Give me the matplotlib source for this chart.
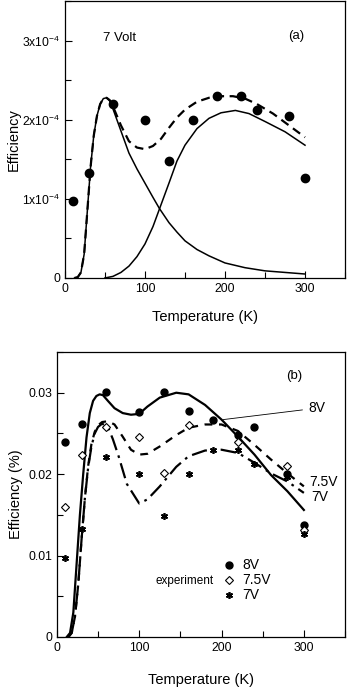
import matplotlib
matplotlib.use("Agg")
import matplotlib.pyplot as plt
from matplotlib.ticker import MultipleLocator

plt.rcParams['font.family'] = ['Liberation Sans', 'DejaVu Sans']
plt.rcParams['mathtext.fontset'] = 'custom'
plt.rcParams['mathtext.rm'] = 'Liberation Sans'

# ---------------- Panel (a) data: 7 Volt ----------------
a_exp_T = [10, 30, 60, 100, 130, 160, 190, 220, 240, 280, 300]
a_exp_eff = [0.98e-4, 1.33e-4, 2.20e-4, 2.00e-4, 1.48e-4, 2.00e-4, 2.30e-4, 2.30e-4, 2.12e-4, 2.05e-4, 1.26e-4]

a_c1_T = [12, 16, 20, 24, 28, 32, 36, 40, 44, 48, 52, 56, 60, 65, 70, 80, 90, 100, 110, 118, 130, 140, 150, 165, 180, 200, 225, 250, 275, 300]
a_c1_eff = [0.0, 0.01e-4, 0.07e-4, 0.30e-4, 0.85e-4, 1.40e-4, 1.80e-4, 2.05e-4, 2.20e-4, 2.27e-4, 2.28e-4, 2.24e-4, 2.14e-4, 2.00e-4, 1.86e-4, 1.58e-4, 1.38e-4, 1.20e-4, 1.02e-4, 0.88e-4, 0.70e-4, 0.58e-4, 0.47e-4, 0.36e-4, 0.28e-4, 0.19e-4, 0.13e-4, 0.09e-4, 0.07e-4, 0.05e-4]

a_c2_T = [50, 60, 70, 80, 90, 100, 110, 118, 130, 140, 150, 165, 180, 195, 213, 230, 250, 275, 300]
a_c2_eff = [0.0, 0.02e-4, 0.07e-4, 0.15e-4, 0.27e-4, 0.43e-4, 0.65e-4, 0.87e-4, 1.20e-4, 1.48e-4, 1.68e-4, 1.89e-4, 2.02e-4, 2.09e-4, 2.12e-4, 2.08e-4, 1.98e-4, 1.85e-4, 1.68e-4]

a_sum_T = [12, 16, 20, 24, 28, 32, 36, 40, 44, 48, 52, 56, 60, 65, 70, 80, 90, 100, 110, 120, 130, 140, 150, 165, 180, 195, 210, 225, 240, 260, 280, 300]
a_sum_eff = [0.0, 0.01e-4, 0.07e-4, 0.30e-4, 0.85e-4, 1.40e-4, 1.80e-4, 2.05e-4, 2.20e-4, 2.27e-4, 2.28e-4, 2.25e-4, 2.17e-4, 2.05e-4, 1.93e-4, 1.73e-4, 1.65e-4, 1.63e-4, 1.67e-4, 1.76e-4, 1.90e-4, 2.03e-4, 2.13e-4, 2.23e-4, 2.28e-4, 2.30e-4, 2.30e-4, 2.27e-4, 2.20e-4, 2.08e-4, 1.93e-4, 1.78e-4]

# ---------------- Panel (b) data ----------------
b_T_8 = [10, 30, 60, 100, 130, 160, 190, 220, 240, 280, 300]
b_eff_8 = [0.0240, 0.0261, 0.0301, 0.0276, 0.0301, 0.0278, 0.0267, 0.0248, 0.0258, 0.0200, 0.0138]
b_T_75 = [10, 30, 60, 100, 130, 160, 220, 280, 300]
b_eff_75 = [0.0160, 0.0223, 0.0258, 0.0246, 0.0201, 0.0260, 0.0239, 0.0210, 0.0131]
b_T_7 = [10, 30, 60, 100, 130, 160, 190, 220, 240, 280, 300]
b_eff_7 = [0.0097, 0.0133, 0.0221, 0.0200, 0.0148, 0.0200, 0.0230, 0.0230, 0.0213, 0.0197, 0.0126]

b_c8_T = [12, 16, 20, 24, 28, 32, 36, 40, 44, 48, 52, 56, 62, 70, 80, 90, 100, 110, 125, 145, 160, 180, 200, 220, 240, 260, 280, 300]
b_c8_eff = [0.0, 0.0005, 0.0030, 0.0090, 0.0150, 0.0200, 0.0245, 0.0275, 0.0290, 0.0296, 0.0298, 0.0297, 0.0290, 0.0281, 0.0275, 0.0273, 0.0274, 0.0283, 0.0294, 0.0300, 0.0298, 0.0285, 0.0267, 0.0246, 0.0224, 0.0199, 0.0179, 0.0156]

b_c75_T = [14, 18, 22, 26, 30, 34, 38, 42, 46, 50, 55, 62, 70, 80, 90, 100, 110, 125, 145, 160, 180, 200, 220, 240, 260, 280, 300]
b_c75_eff = [0.0, 0.0005, 0.0025, 0.0065, 0.0120, 0.0170, 0.0210, 0.0237, 0.0252, 0.0260, 0.0264, 0.0265, 0.0261, 0.0246, 0.0230, 0.0224, 0.0225, 0.0234, 0.0248, 0.0257, 0.0261, 0.0261, 0.0253, 0.0236, 0.0218, 0.0201, 0.0185]

b_c7_T = [14, 18, 22, 26, 30, 34, 38, 42, 46, 50, 55, 62, 68, 75, 85, 100, 110, 125, 145, 160, 180, 200, 220, 240, 260, 280, 300]
b_c7_eff = [0.0, 0.0005, 0.0025, 0.0065, 0.0120, 0.0170, 0.0208, 0.0234, 0.0250, 0.0258, 0.0262, 0.0258, 0.0243, 0.0222, 0.0188, 0.0164, 0.0169, 0.0185, 0.0209, 0.0222, 0.0229, 0.0230, 0.0226, 0.0214, 0.0201, 0.0191, 0.0177]

a_yticks = [0, 1e-4, 2e-4, 3e-4]
a_ylabels = ['0', r'$\mathregular{1x10^{-4}}$', r'$\mathregular{2x10^{-4}}$', r'$\mathregular{3x10^{-4}}$']
b_yticks = [0, 0.01, 0.02, 0.03]
b_ylabels = ['0', '0.01', '0.02', '0.03']
xticks = [0, 100, 200, 300]

fig = plt.figure(figsize=(3.51, 6.87), dpi=100)
axa = fig.add_axes([0.185, 0.5954, 0.798, 0.4026])
axb = fig.add_axes([0.162, 0.0728, 0.821, 0.4148])

lw = 1.1
# Panel a
axa.plot(a_c1_T, a_c1_eff, color='black', lw=lw)
axa.plot(a_c2_T, a_c2_eff, color='black', lw=lw)
axa.plot(a_sum_T, a_sum_eff, color='black', lw=1.6, dashes=(4, 2.5))
axa.plot(a_exp_T, a_exp_eff, 'o', color='black', ms=6.0, zorder=5)
axa.set_xlim(0, 350)
axa.set_ylim(0, 3.5e-4)
axa.text(47, 3.04e-4, '7 Volt', fontsize=9.5, va='center')
axa.text(279, 3.06e-4, '(a)', fontsize=9.5, va='center')

# Panel b
axb.plot(b_c8_T, b_c8_eff, color='black', lw=1.6)
axb.plot(b_c75_T, b_c75_eff, color='black', lw=1.6, dashes=(3.5, 3))
axb.plot(b_c7_T, b_c7_eff, color='black', lw=1.6, dashes=(7, 2.5, 1.2, 2.5))
axb.plot(b_T_8, b_eff_8, 'o', color='black', ms=5.0, zorder=5)
axb.plot(b_T_75, b_eff_75, 'D', mfc='white', mec='black', mew=0.8, ms=4.0, zorder=6)
axb.plot(b_T_7, b_eff_7, marker=(6, 2, 0), ls='none', color='black', mew=1.2, ms=5.0, zorder=7)
axb.set_xlim(0, 350)
axb.set_ylim(0, 0.035)
axb.annotate('8V', xy=(202, 0.0267), xytext=(305, 0.0281), fontsize=10, va='center',
             arrowprops=dict(arrowstyle='-', color='black', lw=0.6, shrinkA=2, shrinkB=0))
axb.text(306, 0.0190, '7.5V', fontsize=10, va='center')
axb.text(309, 0.0172, '7V', fontsize=10, va='center')
axb.text(278, 0.0320, '(b)', fontsize=9.5, va='center')

# legend (manual)
axb.plot([209], [0.0089], 'o', color='black', ms=5.0)
axb.plot([209], [0.0070], 'D', mfc='white', mec='black', mew=0.8, ms=4.0)
axb.plot([209], [0.0052], marker=(6, 2, 0), ls='none', color='black', mew=1.2, ms=5.0)
axb.text(225, 0.0089, '8V', fontsize=10, va='center')
axb.text(225, 0.0070, '7.5V', fontsize=10, va='center')
axb.text(225, 0.0052, '7V', fontsize=10, va='center')
axb.text(190, 0.0069, 'experiment', fontsize=8.5, va='center', ha='right')

for ax, yt, yl in [(axa, a_yticks, a_ylabels), (axb, b_yticks, b_ylabels)]:
    ax.set_xticks(xticks)
    ax.set_xticklabels([str(t) for t in xticks])
    ax.set_yticks(yt)
    ax.set_yticklabels(yl)
    ax.xaxis.set_minor_locator(MultipleLocator(50))
    ax.tick_params(which='both', direction='in', top=False, right=False, labelsize=8.7, width=0.8)
    ax.tick_params(which='major', length=5)
    ax.tick_params(which='minor', length=4)
    for s in ax.spines.values():
        s.set_linewidth(0.9)

axa.set_xlabel('Temperature (K)', fontsize=10.5, labelpad=11)
axb.set_xlabel('Temperature (K)', fontsize=10.5, labelpad=14)
axa.yaxis.set_minor_locator(MultipleLocator(0.5e-4))
axb.yaxis.set_minor_locator(MultipleLocator(0.005))
axa.set_ylabel('Efficiency', fontsize=10.5, labelpad=1)
axb.set_ylabel('Efficiency (%)', fontsize=10.5, labelpad=4)

fig.savefig('out.png', dpi=100)
